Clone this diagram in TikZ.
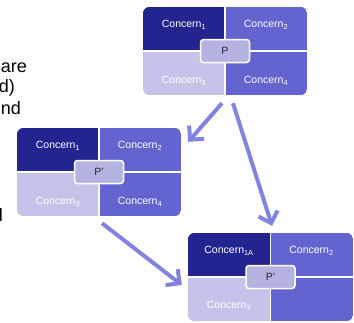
\documentclass[tikz,border=0pt]{standalone}
\usepackage{fontspec}
\setmainfont{Liberation Sans}
\usepackage{xcolor}
\usepackage{tikz}
\usetikzlibrary{arrows.meta,calc}

\definecolor{cdark}{RGB}{36,36,145}
\definecolor{cmid}{RGB}{100,100,208}
\definecolor{clight}{RGB}{196,196,234}
\definecolor{cpatch}{RGB}{180,180,226}
\definecolor{carrow}{RGB}{130,130,224}

\begin{document}
\begin{tikzpicture}[x=1pt,y=1pt,yscale=-1,xscale=1,
    frame/.style={minimum width=164,minimum height=88,inner sep=0},
    patch/.style={fill=cpatch,draw=white,line width=1.5,rounded corners=3,
      minimum width=49,minimum height=23,inner sep=0,text=black!85,
      font=\fontsize{10.5}{12}\selectfont},
    lbl/.style={anchor=base,inner sep=0,text=white,font=\fontsize{10.5}{12}\selectfont},
    side/.style={anchor=base east,inner sep=0,font=\fontsize{18}{21}\selectfont},
    flow/.style={draw=carrow,line width=4,-{Straight Barb[length=10,width=20]}}]
            \useasboundingbox (0,0) rectangle (354,322);

            % Text Node (cut-off words on the left)
            \node[side] (w1) at (27,72) {are};
            \node[side] (w2) at (15,92) {d)};
            \node[side] (w3) at (21,114) {nd};
            \node[side] (w4) at (3,221) {l};

            % Boxes
            \node[frame] (boxtop) at (225,51) {};
            \node[frame] (boxmid) at (99,172) {};
            \node[frame,minimum width=165] (boxnew) at (270.5,277) {};

            %Shape: quadrants
            \foreach \b in {boxtop,boxmid,boxnew}{
              \begin{scope}
                \clip[rounded corners=7] (\b.north west) rectangle (\b.south east);
                \fill[cdark] (\b.north west) rectangle (\b.center);
                \fill[cmid] (\b.north east) rectangle (\b.center);
                \fill[clight] (\b.south west) rectangle (\b.center);
                \fill[cmid] (\b.south east) rectangle (\b.center);
              \end{scope}
              \draw[white,line width=1.2] (\b.north) -- (\b.south) (\b.west) -- (\b.east);
            }

            % Text Node
            \node[lbl] (t1) at (184,27.5) {Concern\textsubscript{1}};
            \node[lbl] (t2) at (266,27.5) {Concern\textsubscript{2}};
            \node[lbl] (t3) at (184,83.5) {Concern\textsubscript{3}};
            \node[lbl] (t4) at (266,83.5) {Concern\textsubscript{4}};
            \node[patch] (ptop) at (boxtop.center) {P};

            % Text Node
            \node[lbl] (m1) at (58,148.5) {Concern\textsubscript{1}};
            \node[lbl] (m2) at (140,148.5) {Concern\textsubscript{2}};
            \node[lbl] (m3) at (58,204.5) {Concern\textsubscript{3}};
            \node[lbl] (m4) at (140,204.5) {Concern\textsubscript{4}};
            \node[patch] (pmid) at (boxmid.center) {P'};

            % Text Node
            \node[lbl] (n1) at (229,253.5) {Concern\textsubscript{1A}};
            \node[lbl] (n2) at (311.5,253.5) {Concern\textsubscript{2}};
            \node[lbl] (n3) at (229,308.5) {Concern\textsubscript{3}};
            \node[patch] (pnew) at (boxnew.center) {P'};

            %Straight Lines: arrows
            \draw[flow] ($(boxtop.south)+(-3,8)$) -- ($(boxmid.north east)+(7,14)$);
            \draw[flow] ($(boxtop.south)+(8,8)$) -- ($(boxnew.north)+(1.5,-7)$);
            \draw[flow] ($(boxmid.south)+(3,7)$) -- ($(boxnew.west)+(-6,8)$);

\end{tikzpicture}
\end{document}
